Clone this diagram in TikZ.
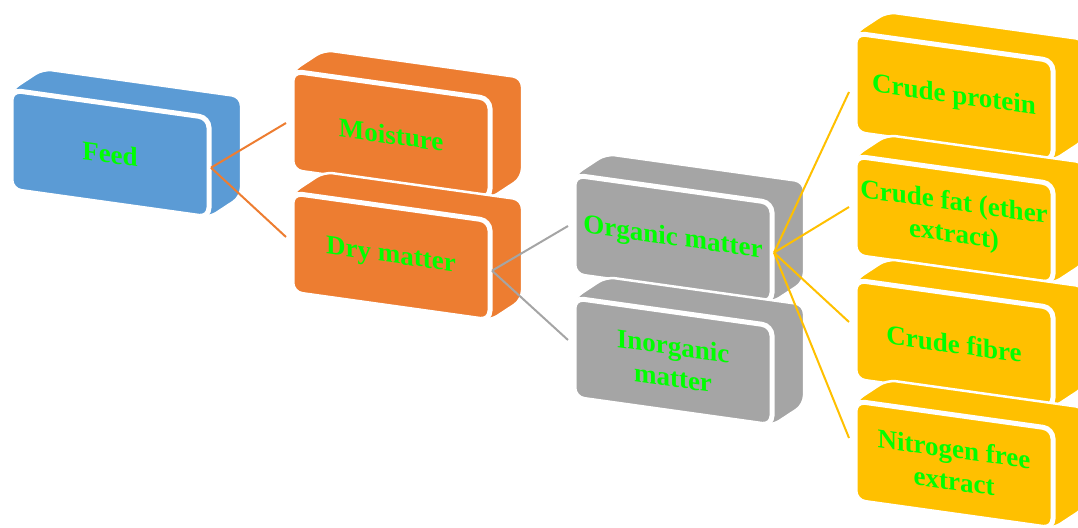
\documentclass[tikz,border=0pt]{standalone}
\usepackage{fontspec}
\setmainfont{Liberation Serif}
\usetikzlibrary{calc}
\definecolor{feedblue}{HTML}{5B9BD5}
\definecolor{dmorange}{HTML}{ED7D31}
\definecolor{omgrey}{HTML}{A5A5A5}
\definecolor{fracgold}{HTML}{FFC000}
\definecolor{labelgreen}{HTML}{00FF00}
\def\bw{198}\def\bh{100}\def\bs{27.7}\def\bdx{32}\def\bdy{21}
% brick: name, colour, x, y (front top left), input offset, text
\newcommand\brick[6]{%
	\path[fill=#2, draw=white, line width=2.5, rounded corners=9] (#3,#4) -- ({#3+\bdx},{#4-\bdy}) -- ({#3+\bw+\bdx},{#4+\bs-\bdy}) -- ({#3+\bw+\bdx},{#4+\bs+\bh-\bdy}) -- ({#3+\bw},{#4+\bs+\bh}) -- (#3,{#4+\bh}) -- cycle;
	\path[fill=#2, draw=white, line width=5, rounded corners=10] (#3,#4) -- ({#3+\bw},{#4+\bs}) -- ({#3+\bw},{#4+\bs+\bh}) -- (#3,{#4+\bh}) -- cycle;
	\node[bricktext] (#1) at ({#3+\bw/2},{#4+\bs/2+\bh/2}) {#6};
	\coordinate (#1-e) at ({#3+\bw+2},{#4+\bs+\bh/2});
	\coordinate (#1-w) at ({#3-6},{#4+#5});
}
\tikzset{
	bricktext/.style={text=labelgreen, font=\bfseries\fontsize{27}{32}\selectfont, align=center, inner sep=0, yslant=-0.14},
	link/.style={line width=2}
}

\begin{document}
\begin{tikzpicture}[x=1pt, y=-1pt]
			%%%%% START %%%%%
			\clip (0,0) rectangle (1078,527);
			
			\brick{feed}{feedblue}{11}{90}{0}{Feed}
			
			\brick{moist}{dmorange}{292}{71}{52}{Moisture}
			\brick{dry}{dmorange}{292}{193}{44}{Dry matter}
			
			\brick{org}{omgrey}{574}{175}{51}{Organic matter}
			\brick{inorg}{omgrey}{574}{298}{42}{Inorganic\\matter}
			
			\brick{prot}{fracgold}{855}{33}{59}{Crude protein}
			\brick{fat}{fracgold}{855}{156}{51}{Crude fat (ether\\extract)}
			\brick{fibre}{fracgold}{855}{280}{42}{Crude fibre}
			\brick{nfe}{fracgold}{855}{401}{37}{Nitrogen free\\extract}
			
			\draw[link, dmorange] (feed-e) -- (moist-w);
			\draw[link, dmorange] (feed-e) -- (dry-w);
			
			\draw[link, omgrey] (dry-e) -- (org-w);
			\draw[link, omgrey] (dry-e) -- (inorg-w);
			
			\draw[link, fracgold] (org-e) -- (prot-w);
			\draw[link, fracgold] (org-e) -- (fat-w);
			\draw[link, fracgold] (org-e) -- (fibre-w);
			\draw[link, fracgold] (org-e) -- (nfe-w);
			%%%%% END %%%%%
\end{tikzpicture}
\end{document}
